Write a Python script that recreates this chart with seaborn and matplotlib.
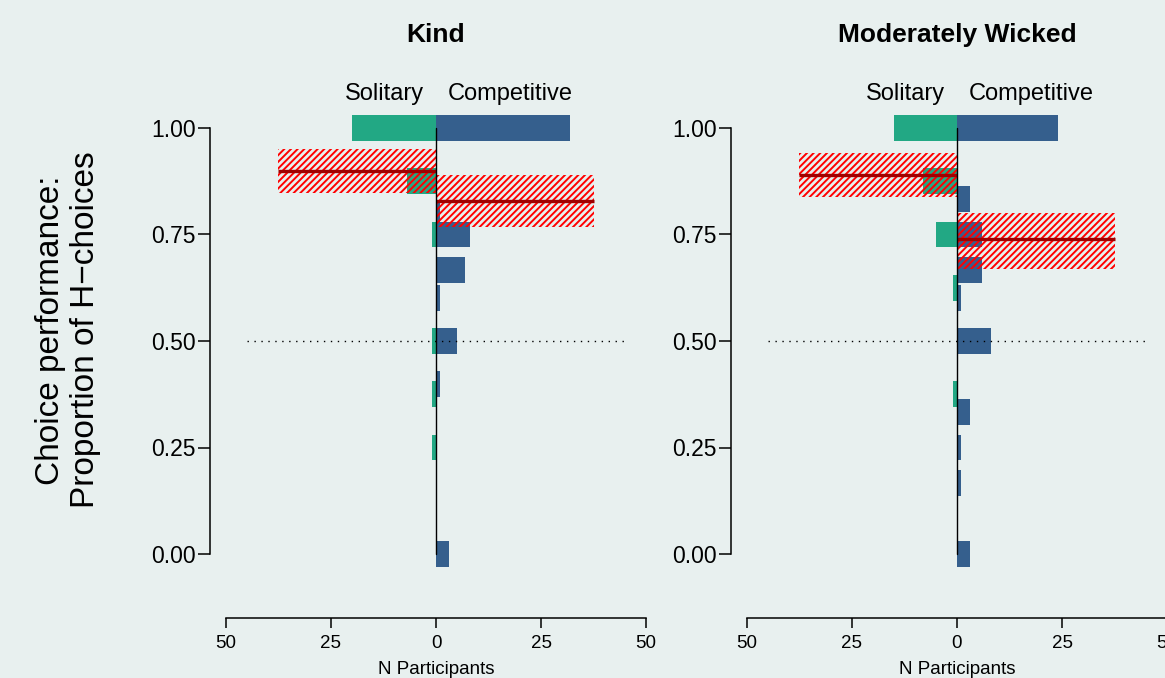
import numpy as np
import pandas as pd
import matplotlib
matplotlib.use("Agg")
import matplotlib.pyplot as plt
import seaborn as sns

# data: proportion of H-choices -> number of participants
kind_sol_prop = [1.0, 0.875, 0.75, 0.5, 0.375, 0.25]
kind_sol_n = [20, 7, 1, 1, 1, 1]
kind_comp_prop = [1.0, 0.8, 0.75, 2 / 3, 0.6, 0.5, 0.4, 0.0]
kind_comp_n = [32, 1, 8, 7, 1, 5, 1, 3]

wicked_sol_prop = [1.0, 0.875, 0.75, 0.625, 0.375]
wicked_sol_n = [15, 8, 5, 1, 1]
wicked_comp_prop = [1.0, 5 / 6, 0.75, 2 / 3, 0.6, 0.5, 1 / 3, 0.25, 1 / 6, 0.0]
wicked_comp_n = [24, 3, 6, 6, 1, 8, 3, 1, 1, 3]

# group means with interval (mean, low, high)
kind_sol_mean = [0.900, 0.848, 0.951]
kind_comp_mean = [0.829, 0.767, 0.890]
wicked_sol_mean = [0.890, 0.838, 0.941]
wicked_comp_mean = [0.739, 0.669, 0.800]

panel_titles = ["Kind", "Moderately Wicked"]
x_ticks = [-50, -25, 0, 25, 50]
y_ticks = [0.0, 0.25, 0.5, 0.75, 1.0]

bg = "#E8F0EF"
green = "#22A884"
blue = "#355F8D"

sns.set_style("ticks", {"axes.facecolor": bg, "figure.facecolor": bg})
plt.rcParams["font.family"] = ["Liberation Sans", "DejaVu Sans"]
plt.rcParams["hatch.linewidth"] = 1.4
plt.rcParams["axes.linewidth"] = 1.1
for k in ["text.color", "axes.labelcolor", "xtick.color", "ytick.color",
          "axes.edgecolor"]:
    plt.rcParams[k] = "black"

W, H = 1165, 678
fig = plt.figure(figsize=(W / 100, H / 100), dpi=100)
fig.patch.set_facecolor(bg)

BAR_H = 0.061
HALF_W = 37.5


def make_panel(ax, title, sol_prop, sol_n, comp_prop, comp_n, sol_m, comp_m):
    df = pd.concat([
        pd.DataFrame({"prop": sol_prop, "n": -np.array(sol_n), "group": "Solitary"}),
        pd.DataFrame({"prop": comp_prop, "n": np.array(comp_n), "group": "Competitive"}),
    ], ignore_index=True)
    native = np.diff(np.unique(df["prop"])).min()
    sns.barplot(data=df, x="n", y="prop", hue="group", orient="h",
                native_scale=True, dodge=False, width=BAR_H / native,
                palette={"Solitary": green, "Competitive": blue},
                saturation=1, errorbar=None, legend=False, linewidth=0, ax=ax)

    # hatched interval boxes with mean lines
    for m, sign in [(sol_m, -1), (comp_m, 1)]:
        ax.fill_betweenx([m[1], m[2]], 0, sign * HALF_W, facecolor="none",
                         edgecolor="#FF0000", hatch="/////", linewidth=0, zorder=3)
        ax.plot([0, sign * HALF_W], [m[0], m[0]], color="#A00000", lw=2.4,
                solid_capstyle="butt", zorder=4)

    ax.plot([-45, 45], [0.5, 0.5], color="black", lw=1.0,
            linestyle=(0, (1, 4)), zorder=5)
    ax.plot([0, 0], [0, 1], color="black", lw=1.0, zorder=6)

    ax.set_xlim(-53.8, 53.8)
    ax.set_ylim(-0.15, 1.2)
    ax.set_xlabel("")
    ax.set_ylabel("")
    ax.set_xticks(x_ticks)
    ax.set_xticklabels([str(abs(t)) for t in x_ticks], fontsize=13.5)
    ax.set_yticks(y_ticks)
    ax.set_yticklabels([f"{t:.2f}" for t in y_ticks], fontsize=16.5)
    ax.tick_params(axis="y", direction="out", length=8.6, width=1.1, pad=1.5)
    ax.tick_params(axis="x", direction="out", length=7.2, width=1.1, pad=5)
    for s in ["top", "right"]:
        ax.spines[s].set_visible(False)
    ax.spines["left"].set_bounds(0, 1)
    ax.spines["bottom"].set_bounds(-50, 50)
    ax.set_facecolor(bg)

    ax.text(0, 1.202, title, ha="center", va="baseline", fontsize=19,
            fontweight="bold")
    ax.text(-2.9, 1.066, "Solitary", ha="right", va="baseline", fontsize=17)
    ax.text(2.9, 1.066, "Competitive", ha="left", va="baseline", fontsize=17)
    ax.text(0, -120 / 426, "N Participants", ha="center",
            va="baseline", fontsize=13.5, clip_on=False)


bottom = (H - 617.9) / H
height = 575.1 / H
ax1 = fig.add_axes([210 / W, bottom, 452 / W, height])
ax2 = fig.add_axes([731 / W, bottom, 452 / W, height])

make_panel(ax1, panel_titles[0], kind_sol_prop, kind_sol_n,
           kind_comp_prop, kind_comp_n, kind_sol_mean, kind_comp_mean)
make_panel(ax2, panel_titles[1], wicked_sol_prop, wicked_sol_n,
           wicked_comp_prop, wicked_comp_n, wicked_sol_mean, wicked_comp_mean)

fig.text(68 / W, 1 - 330 / H, "Choice performance:\nProportion of H\u2212choices",
         rotation=90, ha="center", va="center", fontsize=24,
         multialignment="center", linespacing=1.2)

fig.savefig("out.png", dpi=100, facecolor=bg)
